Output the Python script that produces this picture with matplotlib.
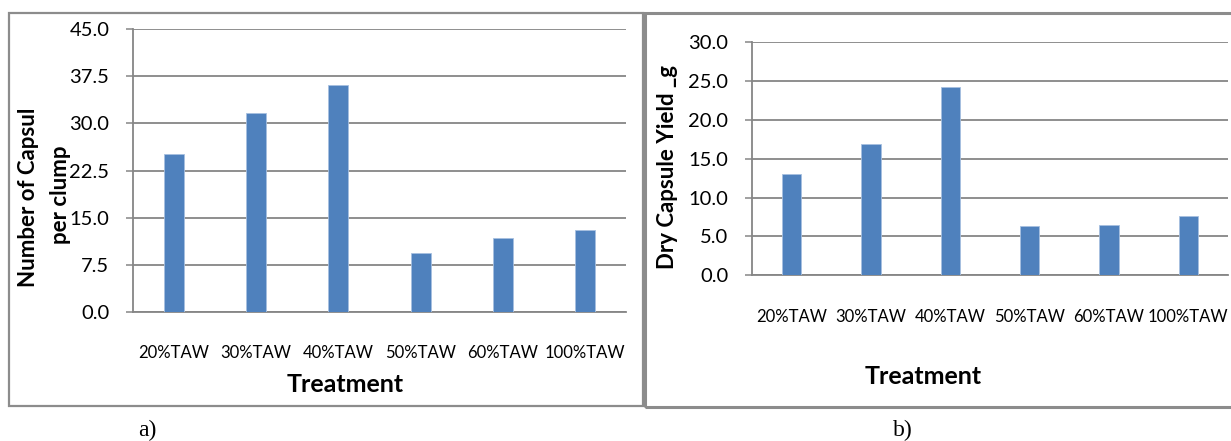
import matplotlib
matplotlib.use("Agg")
import matplotlib.pyplot as plt
from matplotlib.patches import Rectangle

# data
treatments = ["20%TAW", "30%TAW", "40%TAW", "50%TAW", "60%TAW", "100%TAW"]
capsules_per_clump = [25.2, 31.7, 36.1, 9.4, 11.8, 13.0]
dry_capsule_yield = [13.0, 16.9, 24.3, 6.3, 6.5, 7.6]

left_ticks = [0.0, 7.5, 15.0, 22.5, 30.0, 37.5, 45.0]
right_ticks = [0.0, 5.0, 10.0, 15.0, 20.0, 25.0, 30.0]

bar_color = "#4F81BD"
grid_color = "#868686"
frame_color = "#8C8C8C"

plt.rcParams['font.family'] = ['Lato', 'DejaVu Sans']

W, H = 1231, 441
fig = plt.figure(figsize=(W / 100, H / 100), dpi=100)


def px(x0, y0, x1, y1):
    # pixel box -> figure fraction rect
    return [x0 / W, 1 - y1 / H, (x1 - x0) / W, (y1 - y0) / H]


def style_axes(ax, values, ticks):
    x = range(len(values))
    ax.bar(x, values, width=0.245, color=bar_color, edgecolor="#A7C0E0",
           linewidth=0.6, zorder=3)
    ax.set_xlim(-0.5, len(values) - 0.5)
    ax.set_ylim(ticks[0], ticks[-1])
    ax.set_yticks(ticks)
    ax.set_yticklabels(["%.1f" % t for t in ticks], fontsize=14.5)
    ax.set_xticks(list(x))
    ax.set_xticklabels(treatments, fontsize=12)
    ax.tick_params(axis="x", length=0, pad=24)
    ax.tick_params(axis="y", length=5, width=1.1, color=grid_color, pad=12)
    ax.yaxis.grid(True, color=grid_color, linewidth=1.3, zorder=0)
    ax.set_axisbelow(True)
    for s in ["top", "right"]:
        ax.spines[s].set_visible(False)
    for s in ["left", "bottom"]:
        ax.spines[s].set_color(grid_color)
        ax.spines[s].set_linewidth(1.3)


# panel frames
fig.patches.append(Rectangle((9 / W, 1 - 406 / H), (643 - 9) / W, (406 - 13) / H,
                             transform=fig.transFigure, fill=False,
                             edgecolor=frame_color, linewidth=1.6))
fig.patches.append(Rectangle((645 / W, 1 - 407 / H), (1240 - 645) / W, (407 - 13) / H,
                             transform=fig.transFigure, fill=False,
                             edgecolor=frame_color, linewidth=2.2))

ax1 = fig.add_axes(px(133, 29.3, 626, 311.7))
style_axes(ax1, capsules_per_clump, left_ticks)

ax2 = fig.add_axes(px(752, 42.3, 1228, 275.3))
style_axes(ax2, dry_capsule_yield, right_ticks)

# axis titles (left one is two lines, the second runs into the tick labels)
fig.text(29 / W, 1 - 197 / H, "Number of Capsul", rotation=90,
         ha="center", va="center", fontsize=16, fontweight="bold")
fig.text(61 / W, 1 - 195 / H, "per clump", rotation=90,
         ha="center", va="center", fontsize=16, fontweight="bold")
fig.text(345 / W, 1 - 385 / H, "Treatment", ha="center", va="center",
         fontsize=18, fontweight="bold")

fig.text(667 / W, 1 - 167 / H, "Dry Capsule Yield _g", rotation=90,
         ha="center", va="center", fontsize=16, fontweight="bold")
fig.text(923 / W, 1 - 377 / H, "Treatment", ha="center", va="center",
         fontsize=18, fontweight="bold")

# panel captions
fig.text(147 / W, 1 - 430 / H, "a)", ha="center", va="center",
         fontsize=17, family="Liberation Serif")
fig.text(903 / W, 1 - 430 / H, "b)", ha="center", va="center",
         fontsize=17, family="Liberation Serif")

fig.savefig("out.png", dpi=100)
